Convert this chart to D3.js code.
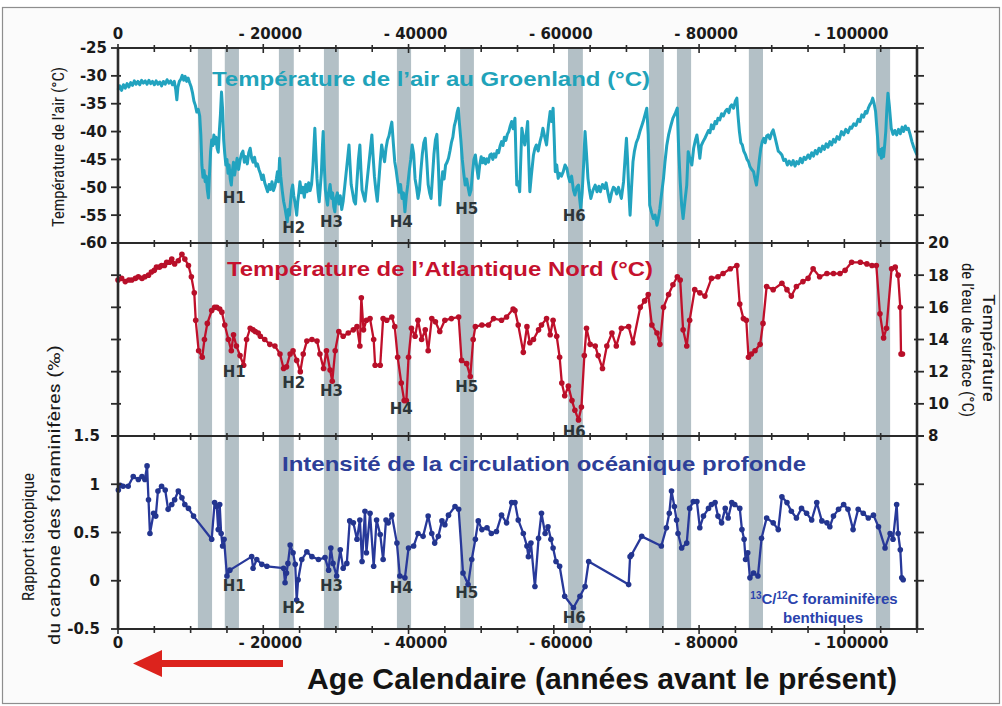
<!DOCTYPE html>
<html><head><meta charset="utf-8">
<script src="https://cdn.jsdelivr.net/npm/d3@7"></script>
<style>html,body{margin:0;padding:0;background:#fff;}svg{display:block;}</style>
</head><body>
<svg id="c" width="1002" height="706"></svg>
<script>
// ---------- DATA ----------
const xTicks = [0, 20000, 40000, 60000, 80000, 100000];
const xTickLabels = ["0", "- 20000", "- 40000", "- 60000", "- 80000", "- 100000"];
const airTicks = [-25, -30, -35, -40, -45, -50, -55, -60];
const sstTicks = [20, 18, 16, 14, 12, 10, 8];
const carbTicks = [1.5, 1, 0.5, 0, -0.5];
const carbTickLabels = ["1.5", "1", "0.5", "0", "-0.5"];

// Heinrich / stadial grey bands (start, end in years before present)
const bandStart = [11000, 14700, 22150, 28350, 38400, 47100, 61950, 73100, 76950, 86850, 104350];
const bandEnd   = [12950, 16650, 24200, 30400, 40350, 49000, 64000, 75150, 78900, 88800, 106300];

const hNames = ["H1", "H2", "H3", "H4", "H5", "H6"];
const hAge = [16000, 24200, 29400, 39000, 48000, 62800];
const hAir = [-51.8, -57.3, -56.2, -56.2, -53.8, -55.0];
const hSst = [12.0, 11.3, 10.8, 9.7, 11.1, 8.3];
const hCarb = [-0.05, -0.28, -0.05, -0.07, -0.12, -0.38];

// Greenland air temperature (year BP, degC)
const airData = [[0,-32.5],[250,-31.8],[500,-32.6],[750,-31.6],[1000,-32.2],[1250,-31.4],[1500,-32.0],[1750,-31.2],[2000,-31.7],[2250,-30.9],[2500,-31.5],[2750,-31.0],[3000,-31.6],[3250,-30.8],[3500,-31.3],[3750,-30.9],[4000,-31.5],[4250,-30.8],[4500,-31.4],[4750,-31.0],[5000,-31.6],[5250,-30.9],[5500,-31.5],[5750,-31.1],[6000,-31.8],[6250,-31.0],[6500,-31.5],[6750,-30.7],[7000,-31.3],[7250,-30.9],[7500,-31.6],[7750,-31.0],[7950,-32.5],[8100,-34.3],[8250,-32.0],[8450,-31.0],[8650,-30.6],[8850,-29.9],[9050,-30.8],[9250,-30.1],[9450,-31.0],[9650,-30.4],[9850,-31.2],[10050,-31.9],[10250,-33.0],[10450,-34.5],[10650,-35.3],[10850,-36.5],[11050,-36.0],[11250,-37.2],[11400,-40.5],[11550,-46.0],[11700,-48.2],[11850,-47.0],[12000,-49.0],[12150,-48.0],[12300,-50.5],[12450,-51.9],[12600,-47.5],[12750,-43.5],[12900,-41.5],[13050,-42.5],[13200,-40.6],[13350,-42.2],[13500,-41.0],[13650,-43.0],[13800,-43.7],[13950,-40.0],[14100,-37.0],[14250,-32.9],[14400,-36.0],[14550,-41.5],[14700,-44.0],[14850,-46.0],[15000,-45.0],[15150,-47.5],[15300,-46.0],[15450,-48.5],[15600,-49.6],[15750,-47.0],[15900,-45.5],[16050,-47.8],[16200,-46.5],[16400,-44.8],[16600,-46.8],[16800,-45.2],[17000,-44.0],[17200,-43.5],[17400,-45.5],[17600,-44.5],[17800,-45.8],[18000,-43.8],[18200,-43.0],[18400,-44.8],[18600,-45.5],[18800,-44.6],[19000,-46.2],[19200,-45.8],[19400,-46.8],[19600,-47.5],[19800,-48.6],[20000,-47.8],[20200,-49.2],[20400,-50.0],[20600,-50.8],[20800,-49.5],[21000,-50.4],[21200,-49.0],[21400,-50.6],[21600,-49.8],[21800,-48.5],[21950,-47.2],[22100,-49.0],[22250,-44.8],[22400,-48.0],[22600,-50.5],[22800,-52.5],[23000,-53.8],[23150,-55.0],[23300,-56.2],[23450,-54.0],[23600,-55.0],[23750,-52.6],[23900,-50.5],[24050,-49.6],[24200,-51.5],[24400,-53.0],[24600,-55.0],[24750,-52.5],[24900,-51.0],[25050,-49.0],[25250,-51.0],[25450,-50.0],[25650,-51.8],[25850,-49.5],[26050,-50.8],[26250,-49.2],[26450,-50.6],[26650,-49.5],[26850,-46.0],[27000,-42.0],[27100,-39.4],[27250,-44.0],[27400,-48.5],[27550,-51.0],[27700,-52.6],[27850,-50.0],[28000,-47.5],[28150,-42.5],[28250,-40.0],[28400,-46.0],[28550,-50.5],[28700,-52.0],[28850,-53.2],[29000,-51.0],[29200,-49.5],[29400,-52.0],[29550,-51.0],[29700,-53.5],[29850,-54.4],[30000,-52.0],[30200,-51.0],[30400,-53.0],[30600,-51.5],[30800,-54.0],[31000,-52.5],[31200,-50.0],[31400,-47.5],[31600,-45.0],[31800,-42.4],[31950,-46.0],[32100,-49.5],[32300,-51.0],[32500,-52.5],[32700,-53.0],[32900,-49.0],[33100,-45.0],[33300,-42.4],[33450,-47.0],[33600,-50.5],[33800,-51.5],[34000,-52.5],[34200,-50.0],[34400,-47.5],[34600,-45.0],[34800,-42.5],[34950,-40.6],[35100,-44.0],[35300,-48.0],[35500,-50.5],[35700,-52.5],[35900,-49.0],[36100,-45.5],[36300,-42.4],[36500,-44.0],[36700,-45.4],[36900,-43.0],[37100,-41.5],[37300,-40.8],[37500,-39.5],[37700,-38.3],[37900,-42.0],[38100,-45.4],[38300,-47.0],[38500,-49.0],[38700,-50.9],[38900,-49.5],[39100,-52.0],[39300,-51.0],[39500,-54.4],[39700,-51.5],[39900,-49.5],[40100,-47.0],[40300,-45.0],[40500,-42.4],[40700,-44.0],[40900,-48.5],[41100,-50.0],[41300,-52.0],[41500,-50.5],[41700,-47.0],[41900,-44.0],[42100,-42.0],[42300,-41.2],[42500,-45.0],[42700,-49.5],[42900,-51.0],[43100,-52.0],[43300,-48.0],[43500,-44.0],[43700,-41.5],[43900,-40.5],[44100,-46.0],[44300,-53.2],[44500,-50.0],[44700,-47.2],[44900,-48.5],[45100,-46.0],[45300,-45.5],[45500,-44.8],[45700,-43.5],[45900,-42.0],[46100,-41.0],[46300,-39.0],[46500,-38.0],[46700,-36.5],[46850,-35.8],[47000,-38.5],[47200,-41.5],[47400,-45.0],[47600,-47.5],[47800,-49.6],[48000,-48.5],[48200,-50.0],[48400,-51.4],[48600,-50.5],[48800,-47.5],[49000,-45.0],[49200,-44.2],[49400,-46.5],[49600,-48.4],[49800,-46.0],[50000,-44.5],[50200,-45.6],[50400,-44.8],[50600,-45.8],[50800,-44.9],[51000,-45.5],[51200,-44.2],[51400,-44.0],[51600,-45.0],[51800,-44.0],[52000,-44.6],[52200,-43.4],[52400,-43.8],[52600,-42.6],[52800,-41.8],[53000,-42.5],[53200,-41.0],[53400,-41.6],[53600,-40.5],[53800,-40.0],[54000,-39.0],[54200,-38.2],[54400,-39.5],[54650,-37.6],[54800,-45.0],[54900,-49.6],[55100,-49.0],[55300,-50.8],[55450,-45.0],[55600,-39.4],[55800,-41.0],[56000,-42.4],[56200,-40.5],[56400,-38.2],[56550,-45.0],[56700,-50.8],[56900,-48.0],[57200,-44.2],[57400,-43.0],[57600,-42.4],[57850,-43.5],[58100,-41.8],[58300,-40.8],[58500,-39.4],[58750,-41.0],[59000,-42.4],[59250,-39.0],[59500,-36.4],[59700,-38.2],[59900,-35.8],[60050,-41.0],[60200,-47.2],[60400,-46.0],[60600,-48.4],[60800,-47.5],[61050,-48.0],[61300,-47.2],[61550,-46.0],[61800,-46.6],[62000,-48.0],[62200,-49.0],[62450,-48.0],[62700,-50.5],[62900,-51.4],[63150,-50.0],[63400,-49.6],[63550,-52.0],[63700,-53.8],[63900,-51.0],[64100,-46.0],[64300,-40.0],[64500,-44.0],[64700,-48.4],[64900,-50.5],[65100,-52.0],[65400,-50.5],[65700,-49.6],[65950,-50.8],[66200,-49.8],[66400,-50.8],[66700,-49.5],[67000,-50.2],[67200,-49.2],[67450,-51.0],[67700,-52.6],[67950,-51.0],[68200,-50.0],[68400,-50.2],[68650,-51.2],[68900,-50.0],[69100,-51.0],[69300,-52.0],[69600,-49.0],[69850,-44.0],[70000,-41.2],[70150,-45.0],[70300,-50.0],[70500,-55.0],[70700,-50.0],[70900,-45.4],[71100,-43.5],[71350,-42.0],[71600,-41.2],[71850,-40.0],[72100,-39.0],[72300,-38.2],[72550,-37.0],[72800,-35.8],[73000,-40.6],[73200,-53.2],[73450,-54.5],[73700,-55.6],[73950,-55.0],[74200,-56.8],[74400,-55.5],[74600,-53.8],[74850,-51.0],[75100,-48.4],[75300,-45.5],[75550,-42.5],[75800,-40.6],[76100,-39.0],[76400,-37.6],[76700,-36.8],[77000,-35.8],[77200,-43.6],[77400,-49.0],[77600,-53.2],[77800,-55.6],[78050,-52.5],[78300,-49.6],[78500,-43.6],[78750,-45.0],[79000,-46.0],[79250,-43.0],[79500,-41.5],[79700,-40.6],[79900,-42.5],[80100,-44.8],[80300,-42.5],[80550,-41.8],[80800,-41.2],[81050,-40.5],[81300,-39.8],[81500,-40.2],[81700,-38.8],[81950,-39.5],[82200,-38.2],[82400,-38.6],[82600,-37.6],[82850,-37.9],[83100,-36.8],[83350,-37.2],[83600,-36.4],[83850,-36.0],[84100,-36.6],[84300,-35.5],[84500,-35.2],[84750,-35.8],[85000,-34.5],[85200,-34.0],[85350,-37.0],[85550,-40.0],[85750,-42.0],[85950,-42.4],[86150,-43.5],[86400,-44.2],[86600,-45.0],[86800,-45.4],[87000,-46.3],[87250,-46.8],[87500,-47.2],[87700,-48.5],[87900,-49.6],[88100,-47.5],[88300,-45.0],[88500,-43.0],[88700,-41.8],[88900,-41.2],[89100,-42.0],[89300,-40.8],[89500,-40.6],[89750,-41.3],[90000,-40.2],[90200,-39.7],[90450,-41.0],[90700,-42.4],[90900,-43.5],[91150,-43.8],[91400,-44.2],[91650,-45.2],[91900,-45.0],[92150,-46.0],[92400,-45.3],[92700,-46.0],[92950,-45.2],[93200,-46.2],[93450,-45.4],[93700,-45.8],[93950,-44.8],[94200,-45.6],[94450,-44.6],[94700,-45.0],[95000,-44.2],[95250,-44.8],[95500,-43.8],[95750,-44.4],[96000,-43.4],[96250,-44.0],[96500,-43.0],[96750,-43.6],[97000,-42.6],[97250,-43.2],[97500,-42.2],[97750,-42.8],[98000,-41.8],[98250,-42.4],[98500,-41.4],[98750,-41.9],[99000,-40.9],[99300,-41.4],[99600,-40.0],[99900,-40.6],[100200,-39.6],[100500,-40.2],[100800,-39.2],[101000,-39.4],[101300,-38.6],[101600,-38.9],[101900,-37.8],[102150,-38.2],[102400,-37.0],[102650,-37.4],[102900,-36.4],[103100,-36.7],[103300,-35.8],[103500,-35.2],[103700,-34.8],[103900,-34.0],[104100,-35.0],[104300,-36.4],[104450,-39.0],[104600,-41.5],[104700,-43.6],[104850,-44.2],[105000,-43.2],[105100,-44.8],[105250,-43.0],[105400,-44.5],[105550,-42.4],[105700,-40.0],[105850,-36.0],[106000,-33.1],[106200,-35.5],[106450,-39.4],[106700,-40.5],[106950,-39.8],[107200,-40.6],[107450,-39.6],[107700,-40.4],[107950,-39.2],[108150,-40.0],[108400,-39.0],[108600,-39.6],[108800,-39.4],[109050,-40.5],[109300,-41.8],[109550,-42.8],[109800,-43.6],[110000,-44.2]];

// North Atlantic sea-surface temperature (year BP, degC)
const sstData = [[0,17.7],[500,17.8],[1000,17.6],[1500,17.7],[1900,17.7],[2400,17.8],[2800,17.9],[3300,17.8],[3700,17.9],[4200,18.0],[4600,18.2],[5000,18.3],[5300,18.5],[5700,18.5],[6000,18.6],[6400,18.6],[6700,18.8],[7100,18.8],[7400,19.0],[7800,18.7],[8300,18.9],[8800,19.3],[9200,19.0],[9700,18.6],[10100,17.9],[10500,16.9],[10700,15.2],[11100,13.3],[11600,12.9],[11900,14.0],[12300,15.0],[12900,15.8],[13300,16.0],[13600,16.0],[14000,15.9],[14300,15.7],[14700,14.9],[15200,14.0],[15600,13.3],[15900,14.3],[16300,13.6],[16800,13.0],[17300,12.4],[17700,14.0],[18200,14.7],[18600,14.6],[18900,14.5],[19300,14.4],[19600,14.2],[20200,14.0],[20900,13.7],[21600,13.6],[22300,13.1],[22800,12.2],[23200,12.3],[23700,13.1],[24100,13.3],[24600,12.7],[25100,12.0],[25500,13.1],[26000,13.9],[26700,14.0],[27400,13.9],[27800,13.1],[28300,12.2],[28700,13.3],[29200,12.1],[29500,11.4],[29900,13.3],[30400,14.5],[31000,14.2],[31700,14.4],[32400,14.6],[32900,14.8],[33300,13.6],[33500,16.6],[33800,14.6],[34200,15.2],[34700,15.3],[35200,14.0],[35400,12.4],[36100,12.4],[36500,15.3],[37000,15.2],[37700,15.4],[38100,14.8],[38500,12.9],[39000,11.3],[39400,10.2],[39700,10.2],[40000,12.9],[40400,14.7],[40900,14.2],[41300,15.2],[41800,14.0],[42300,14.6],[42700,13.3],[43200,15.3],[43700,15.1],[44300,14.5],[45000,15.2],[45900,15.3],[46900,15.4],[47300,12.7],[48000,12.5],[48500,11.7],[48900,14.0],[49200,14.8],[50100,14.9],[51000,14.9],[51700,15.3],[52800,15.2],[53500,15.4],[54400,15.9],[54650,15.8],[55100,14.9],[55800,13.2],[56300,14.8],[56700,13.8],[57200,14.0],[57900,14.6],[58300,14.9],[59000,15.3],[59500,14.3],[59900,15.2],[60400,14.2],[60800,12.9],[61100,11.3],[61500,10.5],[62000,11.1],[62500,10.2],[62900,9.6],[63400,9.0],[63800,9.8],[64200,13.0],[64500,14.7],[65000,13.7],[65700,13.6],[66100,13.0],[66700,12.2],[67300,13.6],[68000,14.4],[68600,13.6],[69300,14.7],[70300,14.8],[70900,13.8],[71900,16.0],[72500,16.4],[73000,16.8],[73500,14.9],[74200,14.4],[74600,13.7],[75100,16.0],[75800,16.8],[76400,17.4],[77000,17.9],[77400,17.7],[77800,14.6],[78300,13.6],[78700,15.2],[79400,17.1],[80100,16.9],[80800,16.7],[81700,17.8],[82600,17.9],[83300,18.1],[84300,18.4],[85200,18.6],[85600,16.2],[86100,15.3],[86500,15.2],[86800,12.9],[87200,13.1],[87700,13.3],[88400,13.7],[88800,15.0],[89300,17.3],[90200,17.1],[91400,17.5],[92100,17.1],[92700,16.7],[93400,17.3],[94300,17.6],[95000,17.8],[95700,18.4],[96600,17.9],[97600,18.1],[98500,18.1],[99400,18.1],[100100,18.3],[101000,18.8],[102200,18.8],[103100,18.7],[103800,18.6],[104400,18.6],[104900,15.6],[105400,14.1],[105800,14.7],[106500,18.4],[107000,18.5],[107400,18.0],[107700,16.0],[107800,13.1],[108000,13.1]];

// Benthic foraminifera 13C/12C (year BP, permil)
const carbData = [[50,0.94],[300,0.99],[700,0.98],[1400,0.98],[2100,1.08],[2800,1.05],[3300,1.08],[3700,1.05],[4000,1.19],[4200,0.84],[4400,0.49],[4900,0.70],[5200,0.67],[5500,0.93],[6000,0.98],[6500,0.94],[6900,0.74],[7400,0.79],[7800,0.84],[8300,0.93],[8800,0.86],[9200,0.79],[9700,0.75],[10400,0.67],[12900,0.43],[13300,0.81],[13600,0.77],[13800,0.53],[14000,0.79],[14200,0.49],[14400,0.36],[14600,0.43],[15000,0.05],[15400,0.11],[18400,0.25],[18600,0.13],[19100,0.22],[19800,0.17],[20500,0.15],[22800,0.13],[23000,-0.02],[23200,0.08],[23400,0.18],[23700,0.37],[24100,0.29],[24400,0.17],[24600,-0.20],[24800,0.01],[25300,0.22],[26000,0.30],[26700,0.25],[27600,0.22],[28500,0.24],[29000,0.11],[29300,0.34],[29600,0.18],[30100,0.05],[30600,0.32],[31000,0.13],[31500,0.18],[31900,0.62],[32400,0.60],[32900,0.43],[33300,0.63],[33600,0.20],[34000,0.72],[34200,0.29],[34700,0.70],[35200,0.15],[35600,0.63],[36100,0.48],[36500,0.22],[36900,0.63],[37200,0.60],[37700,0.68],[38400,0.39],[38800,0.05],[39500,0.03],[40000,0.34],[40700,0.36],[41300,0.49],[42000,0.46],[42700,0.67],[43200,0.49],[43600,0.39],[44100,0.46],[44600,0.62],[45000,0.58],[45500,0.68],[46400,0.77],[46900,0.74],[47500,0.08],[48200,-0.04],[48700,0.22],[49200,0.43],[49600,0.62],[50100,0.53],[50800,0.55],[51400,0.49],[52100,0.51],[52800,0.68],[53500,0.60],[54200,0.81],[54650,0.81],[55100,0.63],[55800,0.49],[56300,0.36],[56500,0.25],[56850,0.39],[57400,-0.06],[57900,0.44],[58300,0.70],[58800,0.49],[59200,0.56],[59600,0.43],[59900,0.34],[60300,0.20],[60800,0.15],[61500,-0.16],[62700,-0.28],[63600,-0.16],[64300,-0.06],[64800,0.20],[70300,-0.04],[70500,0.25],[70700,0.27],[72100,0.46],[74800,0.36],[75500,0.55],[75900,0.70],[76200,0.93],[76600,0.77],[76900,0.63],[77100,0.49],[77600,0.34],[78300,0.39],[78700,0.75],[79200,0.82],[79700,0.82],[80100,0.55],[80600,0.67],[81300,0.75],[81700,0.79],[82200,0.81],[82600,0.67],[83100,0.60],[83600,0.75],[84000,0.65],[84500,0.81],[84900,0.79],[85600,0.75],[85900,0.53],[86200,0.43],[86400,0.22],[86700,0.29],[87000,0.03],[87500,0.08],[88100,0.05],[88600,0.44],[89300,0.65],[90200,0.60],[90900,0.53],[91400,0.87],[92100,0.81],[92700,0.72],[93400,0.65],[94100,0.75],[94800,0.70],[95500,0.63],[96200,0.81],[96900,0.62],[97600,0.60],[98000,0.56],[98500,0.67],[99200,0.74],[99900,0.79],[100500,0.74],[101200,0.53],[101900,0.74],[102600,0.70],[103300,0.65],[104000,0.68],[104700,0.56],[105600,0.34],[106300,0.49],[106700,0.43],[107200,0.79],[107400,0.49],[107700,0.32],[107900,0.03],[108100,0.01]];

// ---------- DRAWING ----------
const svg = d3.select("#c");
const L = 118, R = 917, T = 48, B1 = 243, B2 = 436, B = 629;
const x = d3.scaleLinear().domain([0, 110000]).range([L, R]);
const yAir = d3.scaleLinear().domain([-60, -25]).range([B1, T]);
const ySst = d3.scaleLinear().domain([8, 20]).range([B2, B1]);
const yCarb = d3.scaleLinear().domain([-0.5, 1.5]).range([B, B2]);

const TICKF = "'DejaVu Sans', Verdana, sans-serif";
const ARIAL = "'Liberation Sans', Arial, Helvetica, sans-serif";
const NARROW = "'Liberation Sans Narrow', 'Roboto Condensed', 'Liberation Sans', Arial, sans-serif";
const AXC = "#2a2a2a";

svg.append("rect").attr("x", 0).attr("y", 0).attr("width", 1002).attr("height", 706).attr("fill", "#ffffff");
svg.append("rect").attr("x", 2.5).attr("y", 7.5).attr("width", 997).attr("height", 696)
  .attr("fill", "#fbfbfb").attr("stroke", "#8e8e8e").attr("stroke-width", 1.2);
svg.append("rect").attr("x", L).attr("y", T).attr("width", R - L).attr("height", B - T).attr("fill", "#ffffff");

// bands
svg.append("g").selectAll("rect").data(bandStart).join("rect")
  .attr("x", (d) => x(d)).attr("y", T)
  .attr("width", (d, i) => x(bandEnd[i]) - x(d)).attr("height", B - T)
  .attr("fill", "#b3c0c6");

// panel titles
function title(txt, cx, by, col, len) {
  svg.append("text").attr("x", cx).attr("y", by).attr("text-anchor", "middle")
    .attr("font-family", ARIAL).attr("font-weight", "bold").attr("font-size", 21)
    .attr("fill", col).attr("textLength", len).attr("lengthAdjust", "spacingAndGlyphs").text(txt);
}
title("Température de l’air au Groenland (°C)", 431, 86, "#21a3ba", 438);
title("Température de l’Atlantique Nord (°C)", 440, 276, "#c5112e", 426);
title("Intensité de la circulation océanique profonde", 544, 471, "#2d3f98", 524);

// series
const airLine = d3.line().x((d) => x(d[0])).y((d) => yAir(d[1]));
svg.append("path").attr("d", airLine(airData)).attr("fill", "none")
  .attr("stroke", "#22a3bf").attr("stroke-width", 3).attr("stroke-linejoin", "round");

const sstLine = d3.line().x((d) => x(d[0])).y((d) => ySst(d[1]));
svg.append("path").attr("d", sstLine(sstData)).attr("fill", "none")
  .attr("stroke", "#c0102b").attr("stroke-width", 2.3).attr("stroke-linejoin", "round");
svg.append("g").selectAll("circle").data(sstData).join("circle")
  .attr("cx", (d) => x(d[0])).attr("cy", (d) => ySst(d[1])).attr("r", 2.8).attr("fill", "#b80f29");

const carbLine = d3.line().x((d) => x(d[0])).y((d) => yCarb(d[1]));
svg.append("path").attr("d", carbLine(carbData)).attr("fill", "none")
  .attr("stroke", "#28399a").attr("stroke-width", 2.3).attr("stroke-linejoin", "round");
svg.append("g").selectAll("circle").data(carbData).join("circle")
  .attr("cx", (d) => x(d[0])).attr("cy", (d) => yCarb(d[1])).attr("r", 2.8).attr("fill", "#23358f");

// frame
const frame = svg.append("g").attr("stroke", AXC).attr("stroke-width", 2).attr("fill", "none");
[T, B1, B2, B].forEach((yy) => frame.append("line").attr("x1", L).attr("x2", R).attr("y1", yy).attr("y2", yy));
frame.append("line").attr("x1", L).attr("x2", L).attr("y1", T).attr("y2", B).attr("stroke-width", 2.6);
frame.append("line").attr("x1", R).attr("x2", R).attr("y1", T).attr("y2", B).attr("stroke-width", 2.6);

// x ticks every 5000 on each horizontal boundary
const minor = d3.range(0, 110001, 5000);
[T, B1, B2, B].forEach((yy) => {
  frame.append("g").selectAll("line").data(minor).join("line")
    .attr("x1", (d) => x(d)).attr("x2", (d) => x(d))
    .attr("y1", (d) => yy - (d % 20000 === 0 ? 4 : 3)).attr("y2", (d) => yy + (d % 20000 === 0 ? 5 : 4))
    .attr("stroke-width", 1.6);
});

// y ticks
function yTicks(vals, sc) {
  frame.append("g").selectAll("line").data(vals).join("line")
    .attr("x1", L - 7).attr("x2", L + 3).attr("y1", (d) => sc(d)).attr("y2", (d) => sc(d)).attr("stroke-width", 1.8);
  frame.append("g").selectAll("line").data(vals).join("line")
    .attr("x1", R - 3).attr("x2", R + 7).attr("y1", (d) => sc(d)).attr("y2", (d) => sc(d)).attr("stroke-width", 1.8);
}
yTicks(airTicks, yAir);
yTicks(sstTicks, ySst);
yTicks(carbTicks, yCarb);

// tick labels
const lab = svg.append("g").attr("font-family", TICKF).attr("font-weight", "bold").attr("font-size", 15).attr("fill", "#1a1a1a");
lab.selectAll(".xt").data(xTicks).join("text").attr("class", "xt")
  .attr("x", (d, i) => x(d) + (i ? 7 : 0)).attr("y", 39).attr("text-anchor", "middle").text((d, i) => xTickLabels[i]);
lab.selectAll(".xb").data(xTicks).join("text").attr("class", "xb")
  .attr("x", (d, i) => x(d) + (i ? 7 : 0)).attr("y", 648).attr("text-anchor", "middle").text((d, i) => xTickLabels[i]);
lab.selectAll(".ya").data(airTicks).join("text").attr("class", "ya")
  .attr("x", 107).attr("y", (d) => yAir(d)).attr("dy", "0.36em").attr("text-anchor", "end").text((d) => d);
lab.selectAll(".ys").data(sstTicks).join("text").attr("class", "ys")
  .attr("x", 928).attr("y", (d) => ySst(d)).attr("dy", "0.36em").attr("text-anchor", "start").text((d) => d);
lab.selectAll(".yc").data(carbTicks).join("text").attr("class", "yc")
  .attr("x", 100).attr("y", (d) => yCarb(d)).attr("dy", "0.36em").attr("text-anchor", "end").text((d, i) => carbTickLabels[i]);

// Heinrich labels
const hg = svg.append("g").attr("font-family", TICKF).attr("font-weight", "bold").attr("font-size", 15)
  .attr("fill", "#2c3539").attr("text-anchor", "middle");
hNames.forEach((n, i) => {
  hg.append("text").attr("x", x(hAge[i])).attr("y", yAir(hAir[i])).attr("dy", "0.36em").text(n);
  hg.append("text").attr("x", x(hAge[i])).attr("y", ySst(hSst[i])).attr("dy", "0.36em").text(n);
  hg.append("text").attr("x", x(hAge[i])).attr("y", yCarb(hCarb[i])).attr("dy", "0.36em").text(n);
});

// axis titles
function vtext(txt, cx, cy, rot, len, size) {
  svg.append("text").attr("transform", `translate(${cx},${cy}) rotate(${rot})`)
    .attr("text-anchor", "middle").attr("font-family", NARROW).attr("font-size", size)
    .attr("fill", "#1a1a1a").attr("textLength", len).attr("lengthAdjust", "spacingAndGlyphs").text(txt);
}
vtext("Température de l’air (°C)", 64, 147, -90, 160, 17);
vtext("Rapport isotopique", 34, 537, -90, 128, 17);
vtext("du carbone des foraminifères (‰)", 60, 495, -90, 300, 17);
vtext("de l’eau de surface (°C)", 962, 340, 90, 154, 17);
vtext("Température", 983, 348, 90, 108, 17);

// 13C/12C annotation
const ann = svg.append("text").attr("x", 824).attr("y", 604).attr("text-anchor", "middle")
  .attr("font-family", ARIAL).attr("font-weight", "bold").attr("font-size", 15).attr("fill", "#2a43ad");
ann.append("tspan").attr("font-size", 10).attr("dy", -5).text("13");
ann.append("tspan").attr("dy", 5).text("C/");
ann.append("tspan").attr("font-size", 10).attr("dy", -5).text("12");
ann.append("tspan").attr("dy", 5).text("C foraminifères");
svg.append("text").attr("x", 823).attr("y", 623).attr("text-anchor", "middle")
  .attr("font-family", ARIAL).attr("font-weight", "bold").attr("font-size", 15).attr("fill", "#2a43ad").text("benthiques");

// red arrow
svg.append("rect").attr("x", 150).attr("y", 660).attr("width", 133).attr("height", 7).attr("fill", "#dc231d");
svg.append("path").attr("d", "M133,663.5 L162,650 L162,677 Z").attr("fill", "#dc231d");

// x axis title
svg.append("text").attr("x", 602).attr("y", 689).attr("text-anchor", "middle")
  .attr("font-family", ARIAL).attr("font-weight", "bold").attr("font-size", 30).attr("fill", "#141414")
  .attr("textLength", 590).attr("lengthAdjust", "spacingAndGlyphs").text("Age Calendaire (années avant le présent)");
</script>
</body></html>
